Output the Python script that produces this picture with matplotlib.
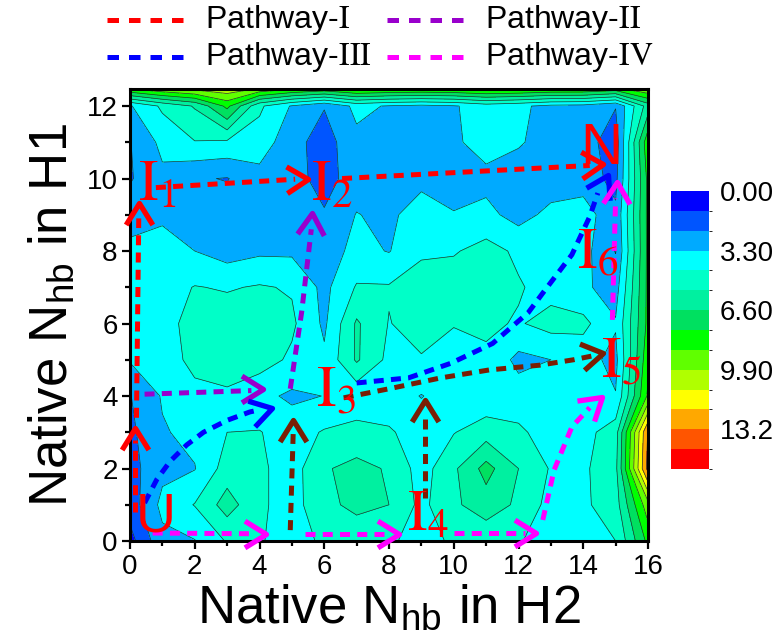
import numpy as np
import matplotlib
matplotlib.use('Agg')
import matplotlib.pyplot as plt
from matplotlib.colors import ListedColormap, BoundaryNorm
from matplotlib.markers import MarkerStyle
from matplotlib.path import Path
from matplotlib.transforms import Affine2D
from matplotlib.lines import Line2D

plt.rcParams['font.family'] = ['Liberation Sans', 'DejaVu Sans']
plt.rcParams['mathtext.fontset'] = 'stix'

# ---------------- data ----------------
x_nodes = [0, 1, 2, 3, 4, 5, 6, 7, 8, 9, 10, 11, 12, 13, 14, 15, 16]
y_nodes = [0, 1, 2, 3, 4, 5, 6, 7, 8, 9, 10, 11, 12, 13]

fe_y0 = [0.7, 3.0, 3.25, 4.5, 4.5, 3.9, 4.6, 5.0, 4.6, 3.9, 4.6, 4.7, 4.5, 3.8, 4.0, 4.4, 8.0]
fe_y1 = [1.6, 3.6, 4.45, 6.0, 4.6, 3.9, 5.3, 5.7, 5.5, 4.1, 5.3, 6.1, 5.3, 4.0, 4.2, 5.0, 9.5]
fe_y2 = [1.8, 3.0, 3.25, 4.9, 4.6, 3.9, 5.4, 5.8, 5.4, 3.9, 5.3, 7.0, 5.5, 4.3, 4.2, 5.2, 13.6]
fe_y3 = [1.95, 3.2, 3.6, 4.4, 4.45, 3.9, 4.5, 4.8, 4.5, 4.0, 4.35, 5.0, 4.6, 3.9, 4.0, 5.0, 13.3]
fe_y4 = [2.15, 3.4, 4.0, 4.2, 3.6, 3.1, 3.32, 3.6, 3.9, 3.25, 3.9, 3.6, 3.8, 3.7, 3.6, 3.35, 9.0]
fe_y5 = [3.4, 3.7, 4.8, 5.0, 4.9, 4.2, 3.5, 5.65, 4.1, 4.3, 4.0, 4.2, 3.0, 3.3, 3.7, 3.0, 8.5]
fe_y6 = [3.5, 3.9, 4.9, 5.0, 5.0, 4.6, 3.1, 5.65, 4.35, 4.9, 4.45, 4.6, 4.3, 4.8, 4.7, 3.4, 8.0]
fe_y7 = [3.6, 3.9, 4.45, 4.3, 4.5, 4.3, 3.0, 4.5, 4.5, 5.0, 5.0, 5.0, 4.5, 4.0, 3.5, 2.8, 8.0]
fe_y8 = [3.6, 3.6, 3.3, 2.8, 3.1, 3.1, 2.8, 3.6, 3.25, 4.2, 4.3, 4.8, 4.2, 3.8, 3.7, 2.15, 8.0]
fe_y9 = [2.8, 3.17, 2.8, 2.7, 2.8, 2.7, 2.3, 3.35, 3.0, 4.0, 3.35, 3.6, 2.9, 3.6, 3.9, 2.4, 8.0]
fe_y10 = [2.1, 3.05, 2.3, 2.15, 2.9, 2.6, 1.8, 2.7, 2.8, 2.9, 2.9, 2.97, 2.8, 2.7, 2.7, 1.9, 8.0]
fe_y11 = [2.15, 3.6, 4.35, 4.2, 3.9, 2.6, 1.7, 3.0, 2.9, 2.9, 3.1, 3.8, 3.4, 2.9, 2.7, 1.6, 8.5]
fe_y12 = [3.2, 4.6, 5.6, 8.0, 4.6, 3.2, 2.26, 3.6, 3.2, 3.0, 3.2, 3.8, 3.5, 3.0, 2.9, 2.25, 6.0]
fe_y13 = [15.0, 15.3, 15.3, 13.5, 15.3, 15.3, 15.3, 15.3, 15.3, 15.3, 15.3, 15.3, 15.3, 15.3, 15.3, 15.0, 14.0]

levels = [0.0, 1.1, 2.2, 3.3, 4.4, 5.5, 6.6, 7.7, 8.8, 9.9, 11.0, 12.1, 13.2, 14.3, 15.4]
band_colors = ['#0000FF', '#0055FF', '#00AAFF', '#00FFFF', '#00FFC8', '#00F0A0',
               '#00E060', '#00FF00', '#60FF00', '#B0FF00', '#FFFF00', '#FFA800',
               '#FF5500', '#FF0000']
cbar_ticks = [0.0, 3.3, 6.6, 9.9, 13.2]
cbar_labels = ['0.00', '3.30', '6.60', '9.90', '13.2']

# pathways (dashed segments) and arrow heads (x, y, display angle)
path_red = [[(0.15, 0.8), (0.15, 2.8)], [(0.2, 3.4), (0.27, 8.9)],
            [(0.8, 9.75), (5.1, 9.98)], [(6.55, 10.0), (14.2, 10.36)]]
arrows_red = [(0.15, 3.12, 90), (0.27, 9.32, 90), (5.5, 10.0, 2), (14.6, 10.4, 3)]
path_purple = [[(0.45, 4.05), (3.75, 4.15)], [(4.95, 4.2), (5.3, 6.3), (5.6, 8.6)]]
arrows_purple = [(4.1, 4.2, 0), (5.63, 9.05, 86)]
path_blue = [[(0.45, 1.05), (0.83, 1.7), (1.24, 2.2), (1.75, 2.65), (2.27, 3.0),
              (3.0, 3.33), (3.7, 3.56), (4.0, 3.62)],
             [(7.0, 4.36), (8.6, 4.5), (9.9, 4.9), (11.2, 5.45), (12.3, 6.3),
              (12.8, 6.9), (13.65, 7.9), (14.2, 8.95), (14.45, 9.6)]]
arrows_blue = [(4.38, 3.67, 15), (14.75, 10.1, 62)]
path_magenta = [[(0.7, 0.22), (3.8, 0.2)], [(5.4, 0.2), (7.9, 0.2)],
                [(10.0, 0.22), (12.2, 0.22)],
                [(12.75, 0.58), (13.1, 1.96), (13.65, 3.15), (14.2, 3.68)],
                [(14.9, 6.1), (15.0, 9.45)]]
arrows_magenta = [(4.2, 0.19, 0), (8.3, 0.2, 0), (12.55, 0.22, 0), (14.57, 3.98, 40),
                  (15.05, 9.9, 88)]
path_brown = [[(4.95, 0.3), (5.04, 2.95)], [(9.1, 1.2), (9.1, 3.45)],
              [(6.6, 3.95), (8.0, 4.2), (9.6, 4.5), (11.1, 4.72), (12.65, 4.85),
               (13.7, 5.0), (14.25, 5.1)]]
arrows_brown = [(5.04, 3.34, 90), (9.1, 3.9, 90), (14.6, 5.18, 10)]

state_I = [('1', 0.25, 9.4), ('2', 5.6, 9.4), ('3', 5.75, 3.7), ('4', 8.55, 0.3),
           ('5', 14.55, 4.5), ('6', 13.8, 7.5)]

legend_items = [('Pathway-$\\mathrm{I}$', '#FF0000'), ('Pathway-$\\mathrm{II}$', '#9900CC'),
                ('Pathway-$\\mathrm{III}$', '#0000FF'), ('Pathway-$\\mathrm{IV}$', '#FF00FF')]

# ---------------- figure ----------------
W, H = 783, 643
fig = plt.figure(figsize=(W / 100, H / 100), dpi=100)
ax = fig.add_axes([130 / W, 1 - 541 / H, 518 / W, 452 / H])

Z = np.array([fe_y0, fe_y1, fe_y2, fe_y3, fe_y4, fe_y5, fe_y6, fe_y7, fe_y8, fe_y9,
              fe_y10, fe_y11, fe_y12, fe_y13])
X, Y = np.meshgrid(x_nodes, y_nodes)
cmap = ListedColormap(band_colors)
norm = BoundaryNorm(levels, cmap.N)
cf = ax.contourf(X, Y, Z, levels=levels, cmap=cmap, norm=norm)
ax.contour(X, Y, Z, levels=levels[1:-1], colors='#1c3434', linewidths=0.5)
ax.set_xlim(0, 16)
ax.set_ylim(0, 12.47)

ax.set_xticks(range(0, 17, 2))
ax.set_xticks(range(0, 17), minor=True)
ax.set_yticks(range(0, 13, 2))
ax.set_yticks(range(0, 13), minor=True)
ax.tick_params(which='major', direction='out', length=6, width=1.6, labelsize=20, pad=3)
ax.tick_params(which='minor', direction='out', length=3.5, width=1.6)
for s in ax.spines.values():
    s.set_linewidth(2.2)
ax.set_xlabel('Native N$_{\\mathregular{hb}}$ in H2', fontsize=38, labelpad=3)
ax.set_ylabel('Native N$_{\\mathregular{hb}}$ in H1', fontsize=38, labelpad=6)

# chevron marker
chev = Path([(-1.0, 0.62), (0.0, 0.0), (-1.0, -0.62)],
            [Path.MOVETO, Path.LINETO, Path.LINETO])


def draw_paths(paths, arrows, color):
    for seg in paths:
        xs = [p[0] for p in seg]
        ys = [p[1] for p in seg]
        ax.plot(xs, ys, color=color, lw=3.6, dashes=(2.0, 1.45), dash_capstyle='butt',
                solid_capstyle='butt', zorder=5)
    for (x, y, a) in arrows:
        m = MarkerStyle(chev, fillstyle='none', transform=Affine2D().rotate_deg(a))
        ax.plot([x], [y], marker=m, ms=31, mec=color, mfc='none', mew=3.8,
                ls='none', zorder=6, clip_on=False)


draw_paths(path_red, arrows_red, '#FF0000')
draw_paths(path_purple, arrows_purple, '#9900CC')
draw_paths(path_blue, arrows_blue, '#0000FF')
draw_paths(path_magenta, arrows_magenta, '#FF00FF')
draw_paths(path_brown, arrows_brown, '#7A1E05')

for sub, x, y in state_I:
    ax.text(x, y, '$\\mathrm{I}_{' + sub + '}$', color='#FF0000', fontsize=42,
            ha='left', va='baseline', zorder=7)
ax.text(0.8, 0.25, 'U', color='#FF0000', fontsize=40, ha='center', va='baseline', zorder=7)
ax.text(14.55, 10.4, 'N', color='#FF0000', fontsize=42, ha='center', va='baseline', zorder=7)

# colorbar
cax = fig.add_axes([671 / W, 1 - 469 / H, 38 / W, 278 / H])
cb = fig.colorbar(cf, cax=cax)
cb.outline.set_visible(False)
cax.invert_yaxis()
cb.set_ticks(cbar_ticks)
cb.set_ticklabels(cbar_labels)
cax.tick_params(length=0, labelsize=20, pad=8)

# legend (manual, figure coords)
leg_rows = [1 - 20 / H, 1 - 57 / H]
leg_cols = [(107, 185, 205), (387, 465, 485)]
for i, (lab, col) in enumerate(legend_items):
    r, c = divmod(i, 2)
    x0, x1, xt = leg_cols[c]
    fig.add_artist(Line2D([x0 / W, x1 / W], [leg_rows[r], leg_rows[r]],
                          transform=fig.transFigure, color=col, lw=3.6,
                          dashes=(2.3, 2.0), dash_capstyle='butt'))
    fig.text(xt / W, leg_rows[r], lab, fontsize=23, va='center', ha='left')

fig.savefig('out.png', dpi=100)
